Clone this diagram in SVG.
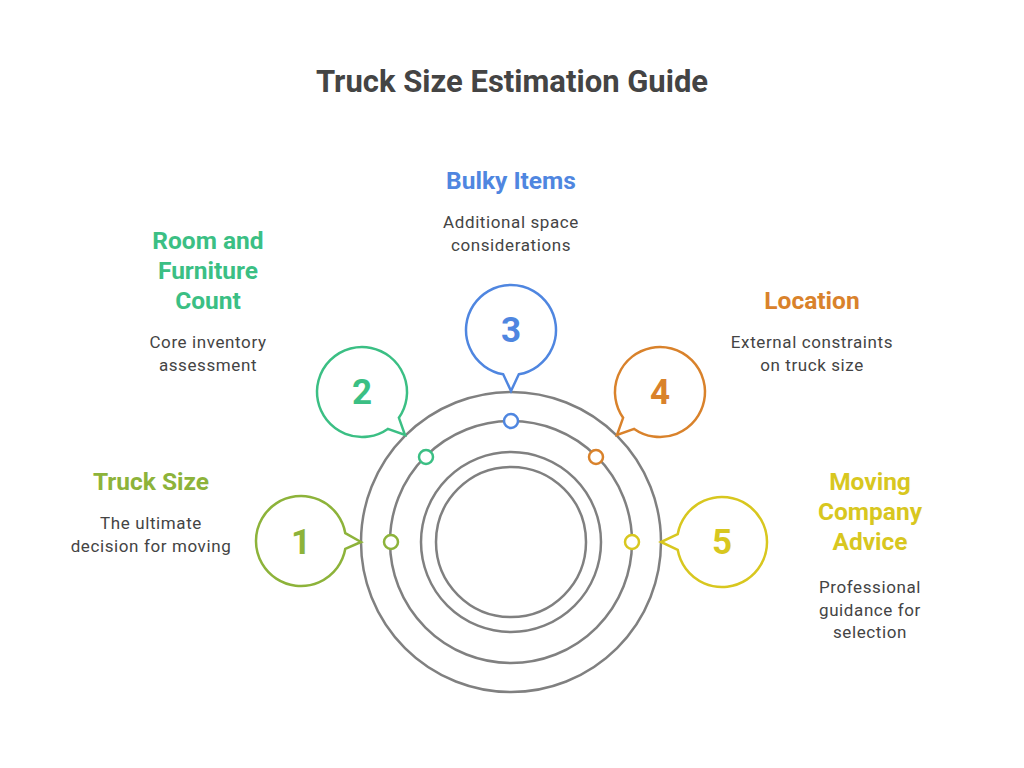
<svg xmlns="http://www.w3.org/2000/svg" width="1024" height="768" viewBox="0 0 1024 768">
<style>
.ring{fill:none;stroke:#808080;stroke-width:2.5}
.b{fill:#fff;stroke-width:2.5}
.n{font-family:Roboto,"Liberation Sans",sans-serif;font-weight:bold;font-size:35px;text-anchor:middle}
.h{font-family:Roboto,"Liberation Sans",sans-serif;font-weight:bold;font-size:24.5px;text-anchor:middle}
.d{font-family:Roboto,"Liberation Sans",sans-serif;font-size:17px;letter-spacing:0.6px;fill:#444;text-anchor:middle}
.dot{fill:#fff;stroke-width:2.5}
</style>
<rect width="1024" height="768" fill="#fff"/>
<text x="512" y="92" font-family="Roboto,'Liberation Sans',sans-serif" font-weight="bold" font-size="31" fill="#444" text-anchor="middle">Truck Size Estimation Guide</text>
<g id="rings">
<circle class="ring" cx="511" cy="542" r="150"/>
<circle class="ring" cx="511" cy="542" r="121"/>
<circle class="ring" cx="511" cy="542" r="90"/>
<circle class="ring" cx="511" cy="542" r="75"/>
</g>
<g id="connectors">
<circle class="dot" cx="391" cy="542" r="7" stroke="#8db33a"/>
<circle class="dot" cx="426" cy="457" r="7" stroke="#3bbf84"/>
<circle class="dot" cx="511" cy="421" r="7" stroke="#4f86e0"/>
<circle class="dot" cx="596" cy="457" r="7" stroke="#d9822b"/>
<circle class="dot" cx="632" cy="542" r="7" stroke="#d8c71f"/>
</g>
<g id="node1">
<path class="b" stroke="#8db33a" d="M345.3 548.8 A45 45 0 1 1 345.3 533.2 L361 542 Z"/>
<text class="n" x="301" y="554" fill="#8db33a">1</text>
<text class="h" x="151" y="490" fill="#8db33a">Truck Size</text>
<text class="d" x="151" y="529">The ultimate</text>
<text class="d" x="151" y="552">decision for moving</text>
</g>
<g id="node2">
<path class="b" stroke="#3bbf84" d="M387.8 428.9 A45 45 0 1 1 398.9 417.8 L405 435 Z"/>
<text class="n" x="362" y="404" fill="#3bbf84">2</text>
<text class="h" x="208" y="249" fill="#3bbf84">Room and</text>
<text class="h" x="208" y="279" fill="#3bbf84">Furniture</text>
<text class="h" x="208" y="309" fill="#3bbf84">Count</text>
<text class="d" x="208" y="348">Core inventory</text>
<text class="d" x="208" y="371">assessment</text>
</g>
<g id="node3">
<path class="b" stroke="#4f86e0" d="M503.2 374.3 A45 45 0 1 1 518.8 374.3 L511 391 Z"/>
<text class="n" x="511" y="342" fill="#4f86e0">3</text>
<text class="h" x="511" y="189" fill="#4f86e0">Bulky Items</text>
<text class="d" x="511" y="228">Additional space</text>
<text class="d" x="511" y="251">considerations</text>
</g>
<g id="node4">
<path class="b" stroke="#d9822b" d="M623.1 417.8 A45 45 0 1 1 634.2 428.9 L617 435 Z"/>
<text class="n" x="660" y="404" fill="#d9822b">4</text>
<text class="h" x="812" y="309" fill="#d9822b">Location</text>
<text class="d" x="812" y="348">External constraints</text>
<text class="d" x="812" y="371">on truck size</text>
</g>
<g id="node5">
<path class="b" stroke="#d8c71f" d="M677.7 534.2 A45 45 0 1 1 677.7 549.8 L661 542 Z"/>
<text class="n" x="722" y="554" fill="#d8c71f">5</text>
<text class="h" x="870" y="490" fill="#d8c71f">Moving</text>
<text class="h" x="870" y="520" fill="#d8c71f">Company</text>
<text class="h" x="870" y="550" fill="#d8c71f">Advice</text>
<text class="d" x="870" y="593">Professional</text>
<text class="d" x="870" y="616">guidance for</text>
<text class="d" x="870" y="638">selection</text>
</g>
</svg>
